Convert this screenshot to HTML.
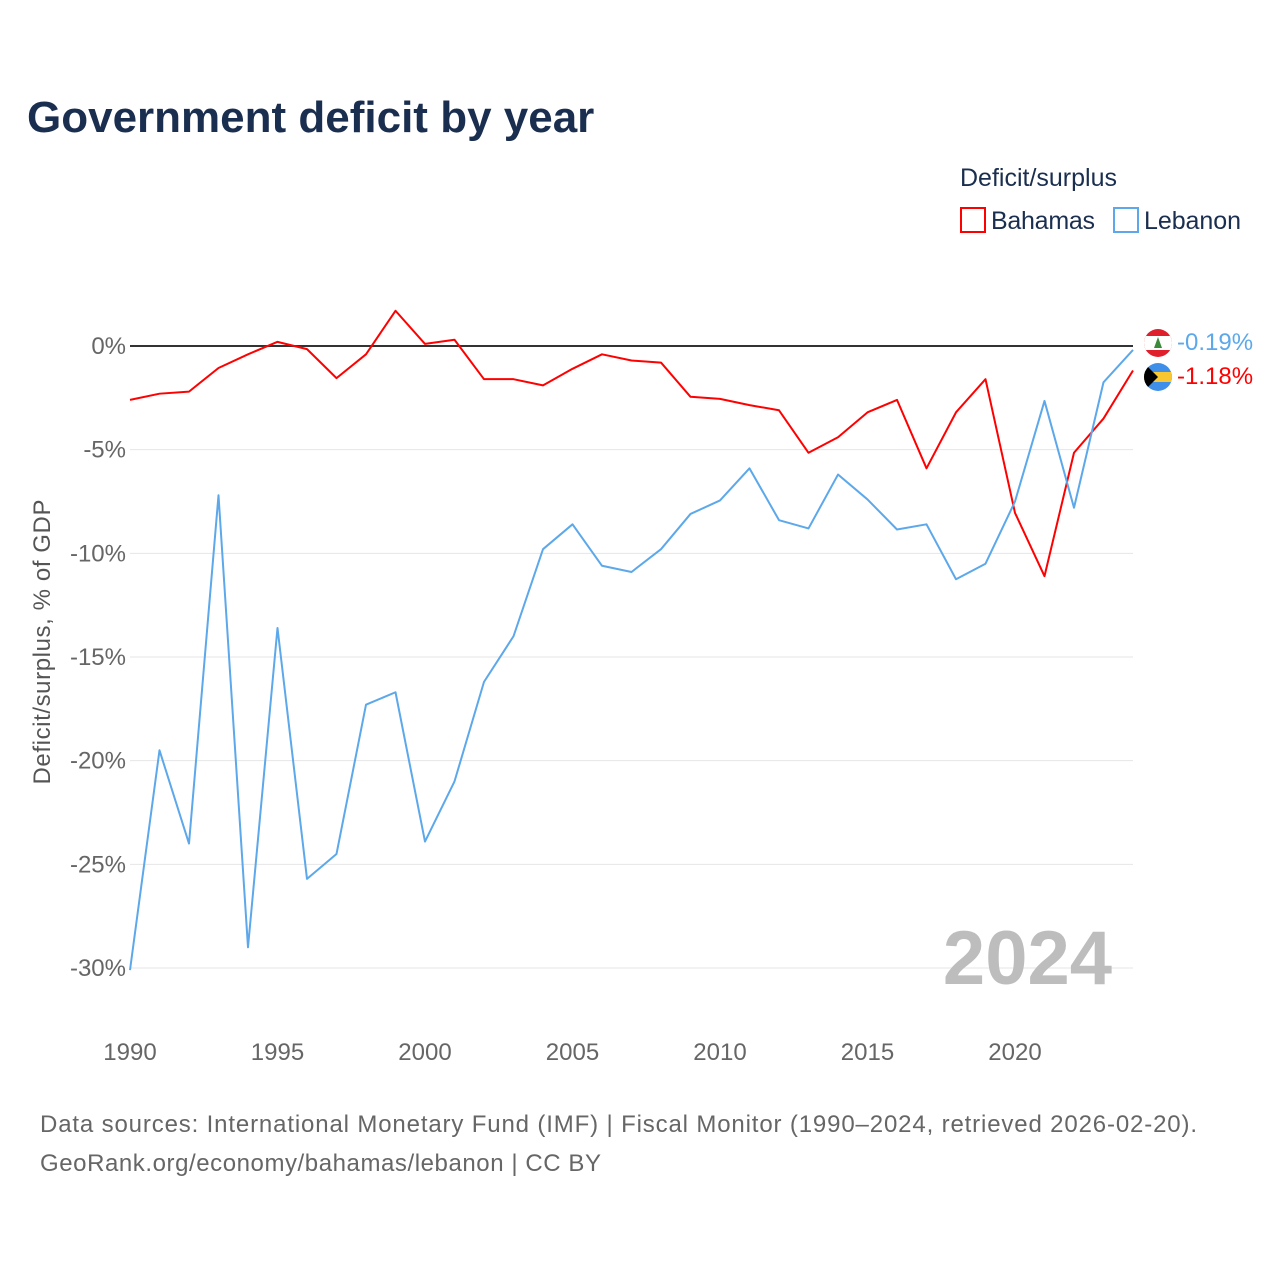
<!DOCTYPE html>
<html><head><meta charset="utf-8"><style>
body{margin:0;background:#fff;font-family:"Liberation Sans",sans-serif;}
</style></head><body>
<svg width="1280" height="1280" xmlns="http://www.w3.org/2000/svg" id="svg">
<text x="27" y="132" font-size="44" font-weight="bold" fill="#1a2e4f">Government deficit by year</text>
<text x="960" y="186" font-size="25" fill="#1a2e4f">Deficit/surplus</text>
<g><rect x="961" y="208" width="24" height="24" fill="none" stroke="#f00" stroke-width="2"/><text x="991" y="229" font-size="25" fill="#1a2e4f" textLength="104">Bahamas</text></g>
<g><rect x="1114" y="208" width="24" height="24" fill="none" stroke="#5ca8ea" stroke-width="2"/><text x="1144" y="229" font-size="25" fill="#1a2e4f" textLength="97">Lebanon</text></g>
<g id="grid"></g><g id="lines"></g>
<text x="1112" y="984" font-size="76" font-weight="bold" fill="#bdbdbd" text-anchor="end">2024</text>
<text transform="translate(50,642) rotate(-90)" font-size="24" fill="#555" text-anchor="middle" textLength="285">Deficit/surplus, % of GDP</text>
<text x="40" y="1132" font-size="24" fill="#666" textLength="1157">Data sources: International Monetary Fund (IMF) | Fiscal Monitor (1990–2024, retrieved 2026-02-20).</text>
<text x="40" y="1171" font-size="24" fill="#666" textLength="561">GeoRank.org/economy/bahamas/lebanon | CC BY</text>
<g><clipPath id="c1"><circle cx="1158" cy="343" r="14"/></clipPath><g clip-path="url(#c1)"><rect x="1144" y="329" width="28" height="28" fill="#e01f2d"/><rect x="1144" y="336" width="28" height="14" fill="#fff"/><polygon points="1158,337 1154,348 1162,348" fill="#3a8a3a"/></g></g>
<g><clipPath id="c2"><circle cx="1158" cy="377" r="14"/></clipPath><g clip-path="url(#c2)"><rect x="1144" y="363" width="28" height="28" fill="#3f8fe8"/><rect x="1144" y="372" width="28" height="10" fill="#f7c630"/><polygon points="1144,363 1158,377 1144,391" fill="#000"/></g></g>
<text x="1177" y="350" font-size="24" fill="#5ca8ea">-0.19%</text>
<text x="1177" y="384" font-size="24" fill="#f00">-1.18%</text>
</svg>
<script>
const years=[];for(let y=1990;y<=2024;y++)years.push(y);
const bahamas=[-2.6,-2.3,-2.2,-1.06,-0.4,0.2,-0.15,-1.55,-0.4,1.7,0.1,0.3,-1.6,-1.6,-1.9,-1.1,-0.4,-0.7,-0.8,-2.45,-2.55,-2.85,-3.1,-5.15,-4.4,-3.2,-2.6,-5.9,-3.2,-1.6,-8.05,-11.1,-5.15,-3.5,-1.18];
const lebanon=[-30.1,-19.5,-24,-7.2,-29,-13.6,-25.7,-24.5,-17.3,-16.7,-23.9,-21,-16.2,-14,-9.8,-8.6,-10.6,-10.9,-9.8,-8.1,-7.45,-5.9,-8.4,-8.8,-6.2,-7.4,-8.85,-8.6,-11.25,-10.5,-7.5,-2.65,-7.8,-1.75,-0.19];
const yTicks=[0,-5,-10,-15,-20,-25,-30];
const xTicks=[1990,1995,2000,2005,2010,2015,2020];
const X=y=>130+(y-1990)*(1133-130)/34;
const Y=v=>346-v*(968-346)/30;
const NS="http://www.w3.org/2000/svg";
const g=document.getElementById('grid'),L=document.getElementById('lines');
function mk(tag,at,par){const e=document.createElementNS(NS,tag);for(const k in at)e.setAttribute(k,at[k]);par.appendChild(e);return e;}
yTicks.forEach(t=>{
 const ln=mk('line',{x1:130,x2:1133,y1:Y(t),y2:Y(t),stroke:t===0?'#333':'#e6e6e6','stroke-width':t===0?2:1},g);
 
 
 const tx=mk('text',{x:126,y:Y(t)+8,'font-size':24,fill:'#666','text-anchor':'end'},g);tx.textContent=t+'%';
 
 
});
xTicks.forEach(t=>{
 const tx=mk('text',{x:X(t),y:1060,'font-size':24,fill:'#666','text-anchor':'middle'},g);tx.textContent=t;
 
 
});
function line(d,c,n){
 const p=mk('polyline',{points:d.map((v,i)=>X(years[i])+','+Y(v)).join(' '),fill:'none',stroke:c,'stroke-width':2,'stroke-linejoin':'round'},L);
 
 
}
line(bahamas,'#f00','line-bahamas');
line(lebanon,'#5ca8ea','line-lebanon');
</script>
</body></html>
